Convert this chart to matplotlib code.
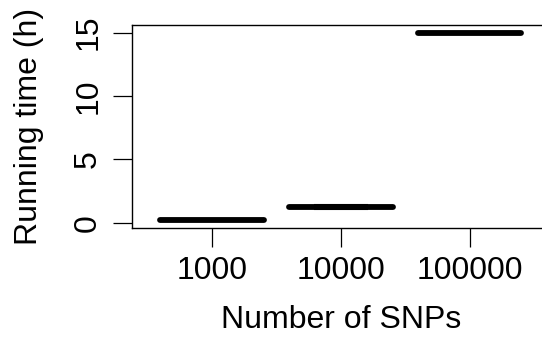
import matplotlib
matplotlib.use("Agg")
import matplotlib.pyplot as plt

plt.rcParams["font.family"] = ["Liberation Sans", "DejaVu Sans"]

# Running time summaries (hours) per SNP count
snps = ["1000", "10000", "100000"]
whislo = [0.22, 1.12, 14.97]
q1 = [0.24, 1.22, 14.99]
med = [0.25, 1.27, 15.00]
q3 = [0.26, 1.33, 15.01]
whishi = [0.28, 1.38, 15.03]

stats = []
for i, name in enumerate(snps):
    stats.append({"label": name, "whislo": whislo[i], "q1": q1[i], "med": med[i],
                  "q3": q3[i], "whishi": whishi[i], "fliers": []})

fig = plt.figure(figsize=(5.42, 3.38), dpi=100)
ax = fig.add_axes([0.243, 0.3254, 0.772, 0.6006])

ax.bxp(stats, positions=[1, 2, 3], widths=0.8, showfliers=False,
       boxprops=dict(color="black", linewidth=1.5),
       medianprops=dict(color="black", linewidth=4.2, solid_capstyle="round"),
       whiskerprops=dict(color="black", linewidth=1.5, linestyle="--"),
       capprops=dict(color="black", linewidth=1.5),
       capwidths=0.4)

ax.set_xlim(0.378, 3.622)
ax.set_ylim(-0.42, 15.6)
ax.set_yticks([0, 5, 10, 15])
ax.set_yticklabels(["0", "5", "10", "15"], rotation=90, va="center")
ax.set_xticks([1, 2, 3])
ax.set_xticklabels(snps)

for s in ax.spines.values():
    s.set_linewidth(1.0)
ax.tick_params(axis="both", length=13.5, width=0.9, labelsize=23)
ax.tick_params(axis="y", pad=7)
ax.tick_params(axis="x", pad=7)

ax.set_xlabel("Number of SNPs", fontsize=23, labelpad=13)
ax.set_ylabel("Running time (h)", fontsize=23, labelpad=21)

fig.savefig("out.png", dpi=100)
